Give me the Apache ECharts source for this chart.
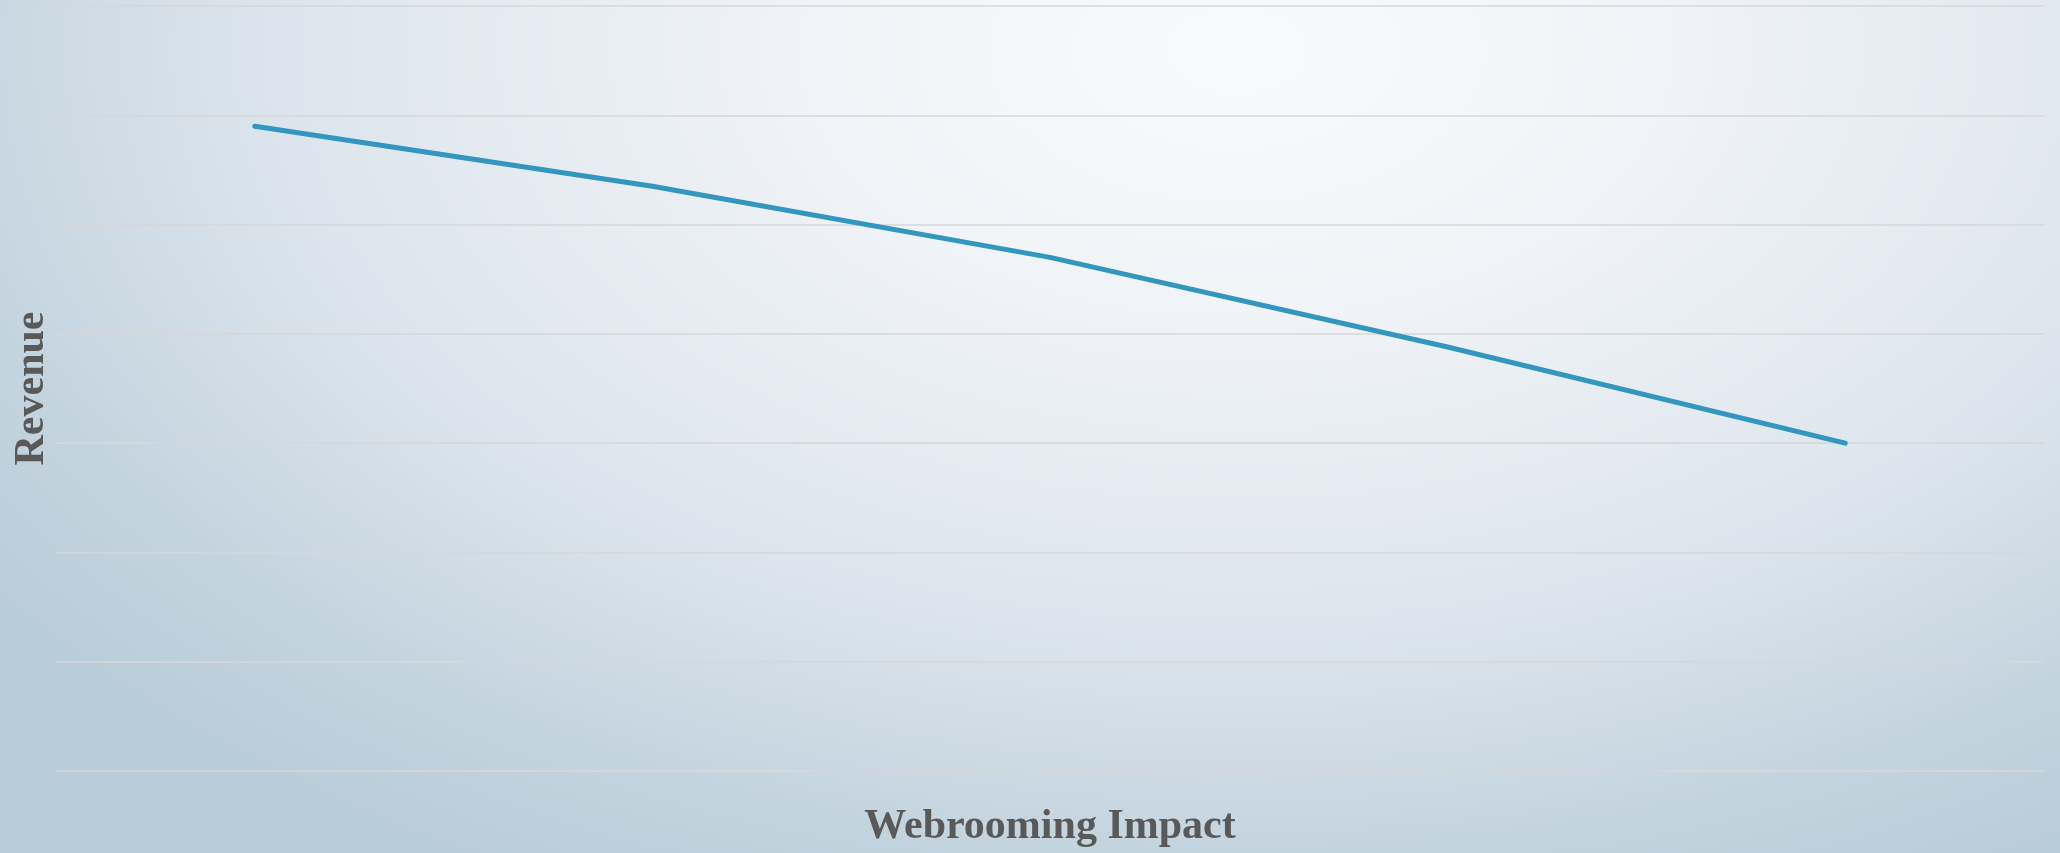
<!DOCTYPE html>
<html>
<head>
<meta charset="utf-8">
<title>Webrooming Impact on Revenue</title>
<script src="https://cdn.jsdelivr.net/npm/echarts@6/dist/echarts.min.js"></script>
<style>
  html, body { margin: 0; padding: 0; }
  #chart {
    width: 2060px;
    height: 853px;
    background: radial-gradient(ellipse 75% 110% at 60% 6%, #f9fafc 0%, #f0f3f7 28%, #dce5ed 62%, #c4d4df 85%, #b9ccd9 100%);
  }
</style>
</head>
<body>
<div id="chart"></div>
<script>
// Webrooming stages (axis labels are hidden)
const categories = ['Stage 1', 'Stage 2', 'Stage 3', 'Stage 4', 'Stage 5'];
// Revenue level at each stage
const revenue = [5.9, 5.35, 4.7, 3.88, 3.0];
// Value axis range
const yMin = 0;
const yMax = 7;
const yStep = 1;

const chart = echarts.init(document.getElementById('chart'), null, { renderer: 'canvas' });

const titleFont = {
  fontFamily: '"Liberation Serif", "Times New Roman", serif',
  fontWeight: 'bold',
  fontSize: 42,
  color: '#595959'
};

chart.setOption({
  backgroundColor: 'transparent',
  animation: false,
  grid: { left: 56, right: 16, top: 6, bottom: 82 },
  xAxis: {
    type: 'category',
    data: categories,
    boundaryGap: true,
    name: 'Webrooming Impact',
    nameLocation: 'middle',
    nameGap: 35,
    nameTextStyle: titleFont,
    axisLine: { show: false },
    axisTick: { show: false },
    axisLabel: { show: false },
    splitLine: { show: false }
  },
  yAxis: {
    type: 'value',
    min: yMin,
    max: yMax,
    interval: yStep,
    name: 'Revenue',
    nameLocation: 'middle',
    nameGap: 3,
    nameTextStyle: titleFont,
    axisLine: { show: false },
    axisTick: { show: false },
    axisLabel: { show: false },
    splitLine: { show: true, lineStyle: { color: '#d6d7d9', width: 1.5 } }
  },
  series: [{
    type: 'line',
    data: revenue,
    showSymbol: false,
    symbol: 'none',
    lineStyle: { color: '#3396be', width: 5, cap: 'round', join: 'round' },
    itemStyle: { color: '#3396be' }
  }]
});
</script>
</body>
</html>
